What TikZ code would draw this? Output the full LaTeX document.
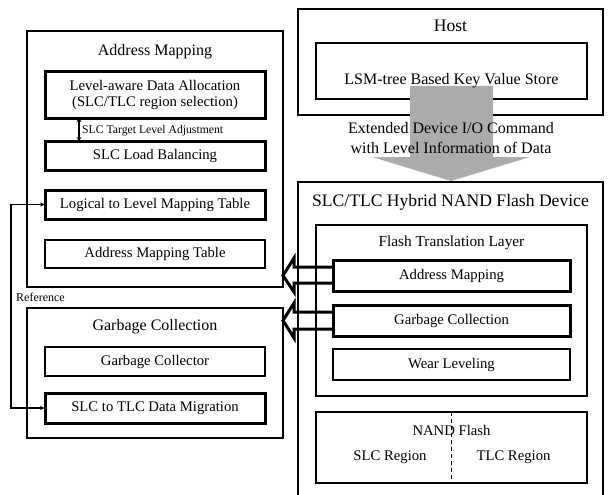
\documentclass[tikz,border=0pt]{standalone}
\usepackage{fontspec}
\setmainfont{Liberation Serif}
\usetikzlibrary{calc,arrows.meta}
\newcommand{\fs}[1]{\fontsize{#1}{#1}\selectfont}
\tikzset{
  x=1pt,y=-1pt,
  outerbox/.style={draw,line width=2.8pt,inner sep=0pt,outer sep=0pt},
  thickbox/.style={draw,line width=3pt,inner sep=0pt,outer sep=0pt,font=\fs{14.7},align=center},
  thinbox/.style={draw,line width=1.2pt,inner sep=0pt,outer sep=0pt,font=\fs{14.7},align=center},
  framebox/.style={draw,line width=1.5pt,inner sep=0pt,outer sep=0pt},
  ttl/.style={font=\fs{16},inner sep=0pt},
  bigttl/.style={font=\fs{17.6},inner sep=0pt},
  lbl/.style={font=\fs{14.7},inner sep=0pt},
  hollow/.style={line width=3pt,line join=miter},
}
\begin{document}
\begin{tikzpicture}
\useasboundingbox (0,0) rectangle (608,495);
% ---------- left: Address Mapping ----------
\node[outerbox,minimum width=256,minimum height=256] (AM) at (155,159) {};
\node[ttl] (AMt) at (155,52) {Address Mapping};
\node[thickbox,minimum width=220,minimum height=46] (LDA) at (155,95) {Level-aware Data Allocation\\[1pt](SLC/TLC region selection)};
\node[thickbox,minimum width=220,minimum height=29] (SLB) at (155,155.5) {SLC Load Balancing};
\node[thickbox,minimum width=220,minimum height=29] (LLMT) at (155,204.5) {Logical to Level Mapping Table};
\node[thinbox,minimum width=220,minimum height=28] (AMT) at (155,254) {Address Mapping Table};
\coordinate (dA) at (79,118);
\coordinate (dB) at (79,141);
\draw[line width=1.3pt,{Stealth[length=4pt,width=5pt]}-{Stealth[length=4pt,width=5pt]}] (dA) -- (dB);
\node[font=\fs{11.7},inner sep=0pt,anchor=west] (SLCT) at (82,130.5) {SLC Target Level Adjustment};
% ---------- left: Garbage Collection ----------
\node[outerbox,minimum width=256,minimum height=130] (GC) at (155,373) {};
\node[ttl] (GCt) at (155,327) {Garbage Collection};
\node[thinbox,minimum width=220,minimum height=29] (GCol) at (155,361.5) {Garbage Collector};
\node[thickbox,minimum width=220,minimum height=30] (S2T) at (155,408) {SLC to TLC Data Migration};
% reference connector
\coordinate (r1) at (11,204.5);
\coordinate (r2) at (11,408);
\draw[line width=1.2pt,-{Stealth[length=5pt,width=4pt]}] (r2) -- (r1) -- (LLMT.west);
\draw[line width=1.2pt,-{Stealth[length=5pt,width=4pt]}] (r1) -- (r2) -- (S2T.west);
\node[font=\fs{12},inner sep=0pt] (ref) at (40.5,297) {Reference};
% ---------- right: Host ----------
\node[framebox,minimum width=305,minimum height=106] (H) at (450.5,62) {};
\node[bigttl] (Ht) at (450.5,26) {Host};
\node[framebox,minimum width=271,minimum height=56] (LSM) at (451.5,71) {};
% grey arrow
\fill[gray!65] (410,86) -- (493,86) -- (493,157) -- (530,157) -- (451,181) -- (372,157) -- (410,157) -- cycle;
\node[font=\fs{16},inner sep=0pt] (LSMt) at (451.5,81) {LSM-tree Based Key Value Store};
\node[font=\fs{16},inner sep=0pt] (cmd1) at (451,128) {Extended Device I/O Command};
\node[font=\fs{16},inner sep=0pt] (cmd2) at (451,148) {with Level Information of Data};
% ---------- right: Device ----------
\coordinate (D1) at (298,500);
\coordinate (D2) at (298,182);
\coordinate (D3) at (603,182);
\coordinate (D4) at (603,500);
\draw[line width=1.5pt] (D1) -- (D2) -- (D3) -- (D4);
\node[bigttl] (Dt) at (450.5,202) {SLC/TLC Hybrid NAND Flash Device};
\node[framebox,minimum width=271,minimum height=171] (FTL) at (451.5,310.5) {};
\node[font=\fs{15.3},inner sep=0pt] (FTLt) at (451.5,243) {Flash Translation Layer};
\node[thickbox,minimum width=237,minimum height=31] (FAM) at (451.5,275.5) {Address Mapping};
\node[thickbox,minimum width=237,minimum height=31] (FGC) at (451.5,320.5) {Garbage Collection};
\node[thinbox,minimum width=237,minimum height=31] (WL) at (451.5,364.5) {Wear Leveling};
\node[framebox,minimum width=271,minimum height=71] (NF) at (451.5,447.5) {};
\draw[line width=1.2pt,dash pattern=on 4pt off 3pt] (NF.north) -- (NF.south);
\node[lbl] (NFt) at (451.5,430) {NAND Flash};
\node[lbl] (SLCr) at (390,457) {SLC Region};
\node[lbl] (TLCr) at (513.5,457) {TLC Region};
% ---------- hollow arrows ----------
\coordinate (t1) at (AM.east |- FAM.west);
\coordinate (t2) at (GC.east |- FGC.west);
\draw[hollow] ($(FAM.west)+(0,-8.5)$) -- ($(t1)+(11,-8.5)$) -- ($(t1)+(11,-17.5)$) -- (t1)
  -- ($(t1)+(11,16.5)$) -- ($(t1)+(11,7.5)$) -- ($(FAM.west)+(0,7.5)$);
\draw[hollow] ($(FGC.west)+(0,-8.5)$) -- ($(t2)+(11,-8.5)$) -- ($(t2)+(11,-17.5)$) -- (t2)
  -- ($(t2)+(11,17.5)$) -- ($(t2)+(11,8.5)$) -- ($(FGC.west)+(0,8.5)$);
\end{tikzpicture}
\end{document}
